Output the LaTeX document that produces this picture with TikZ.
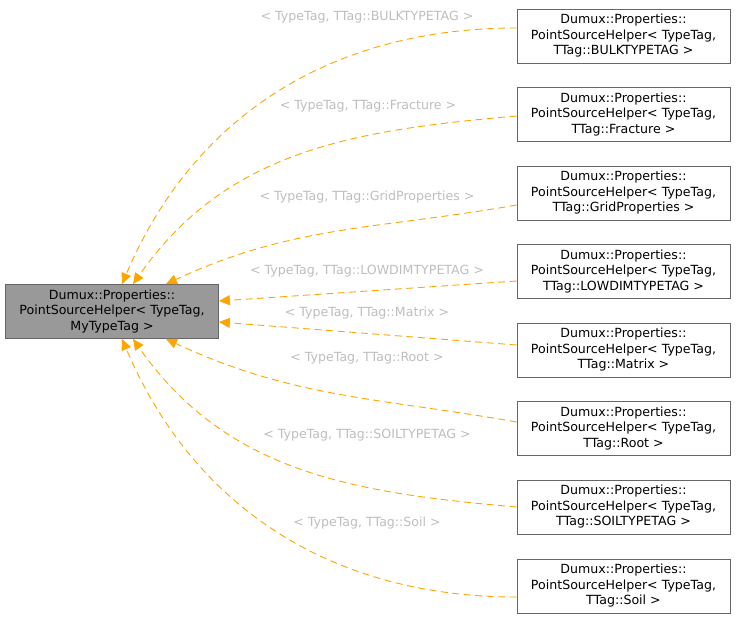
\documentclass[tikz,border=0pt]{standalone}
\usepackage{fontspec}
\setmainfont{DejaVu Sans}
\usetikzlibrary{arrows.meta}
\definecolor{edgeorange}{HTML}{FFA500}
\definecolor{boxline}{HTML}{666666}
\definecolor{mainfill}{HTML}{999999}
\definecolor{labelgray}{HTML}{BEBEBE}

\begin{document}
\begin{tikzpicture}[x=1pt,y=-1pt,
    helper/.style={draw=boxline,line width=0.8pt,fill=white,minimum width=213pt,minimum height=54pt,
      inner sep=0pt,align=center,font=\fontsize{12.6}{15.5}\selectfont},
    mainhelper/.style={helper,fill=mainfill},
    tagedge/.style={draw=edgeorange,line width=0.9pt,dash pattern=on 7pt off 4.5pt,
      -{Triangle[length=11pt,width=10pt]}},
    taglabel/.style={text=labelgray,inner sep=0pt,font=\fontsize{12.6}{15}\selectfont}]
  \useasboundingbox (0,0) rectangle (736,619);

  \node[mainhelper] (main) at (112,311.5)
    {Dumux::Properties::\\PointSourceHelper< TypeTag,\\MyTypeTag >};

  \node[helper] (bulk) at (623.5,36)
    {Dumux::Properties::\\PointSourceHelper< TypeTag,\\TTag::BULKTYPETAG >};
  \node[helper] (frac) at (623.5,114.5)
    {Dumux::Properties::\\PointSourceHelper< TypeTag,\\TTag::Fracture >};
  \node[helper] (grid) at (623.5,193)
    {Dumux::Properties::\\PointSourceHelper< TypeTag,\\TTag::GridProperties >};
  \node[helper] (lowdim) at (623.5,271.5)
    {Dumux::Properties::\\PointSourceHelper< TypeTag,\\TTag::LOWDIMTYPETAG >};
  \node[helper] (matrix) at (623.5,350)
    {Dumux::Properties::\\PointSourceHelper< TypeTag,\\TTag::Matrix >};
  \node[helper] (root) at (623.5,428.5)
    {Dumux::Properties::\\PointSourceHelper< TypeTag,\\TTag::Root >};
  \node[helper] (soiltype) at (623.5,507)
    {Dumux::Properties::\\PointSourceHelper< TypeTag,\\TTag::SOILTYPETAG >};
  \node[helper] (soil) at (623.5,586)
    {Dumux::Properties::\\PointSourceHelper< TypeTag,\\TTag::Soil >};

  \node[taglabel] (lbulk) at (367,17) {< TypeTag, TTag::BULKTYPETAG >};
  \node[taglabel] (lfrac) at (368,106) {< TypeTag, TTag::Fracture >};
  \node[taglabel] (lgrid) at (367,197) {< TypeTag, TTag::GridProperties >};
  \node[taglabel] (llowdim) at (367,271) {< TypeTag, TTag::LOWDIMTYPETAG >};
  \node[taglabel] (lmatrix) at (367,313) {< TypeTag, TTag::Matrix >};
  \node[taglabel] (lroot) at (367,358) {< TypeTag, TTag::Root >};
  \node[taglabel] (lsoiltype) at (367,435) {< TypeTag, TTag::SOILTYPETAG >};
  \node[taglabel] (lsoil) at (367,523) {< TypeTag, TTag::Soil >};

  \draw[tagedge] ([yshift=8pt]bulk.west) to[out=180,in=67] ([xshift=10pt]main.north);
  \draw[tagedge] ([yshift=-1.5pt]frac.west) to[out=185,in=55] ([xshift=21pt]main.north);
  \draw[tagedge] ([yshift=-12pt]grid.west) to[out=190,in=25] ([xshift=54pt]main.north);
  \draw[tagedge] ([yshift=-9.5pt]lowdim.west) -- ([yshift=10.5pt]main.east);
  \draw[tagedge] ([yshift=5pt]matrix.west) -- ([yshift=-10.5pt]main.east);
  \draw[tagedge] ([yshift=6.5pt]root.west) to[out=170,in=-25] ([xshift=54pt]main.south);
  \draw[tagedge] (soiltype.west) to[out=175,in=-55] ([xshift=21pt]main.south);
  \draw[tagedge] ([yshift=-11pt]soil.west) to[out=180,in=-67] ([xshift=10pt]main.south);
\end{tikzpicture}
\end{document}
